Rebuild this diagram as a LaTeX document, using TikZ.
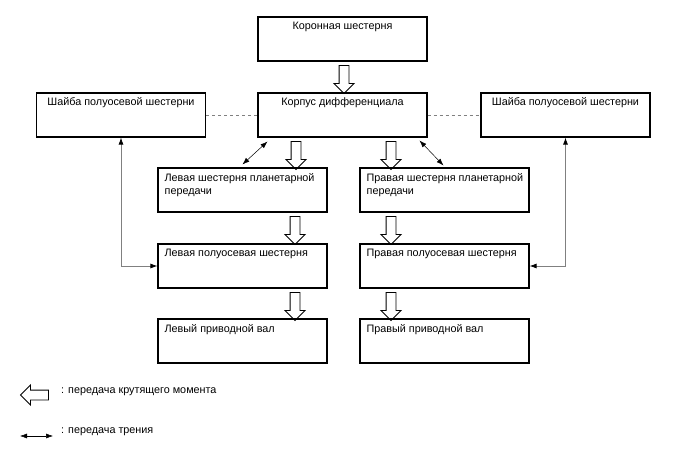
\documentclass[tikz,border=0pt]{standalone}
\usepackage{fontspec}
\setmainfont{Liberation Sans}
\usetikzlibrary{arrows.meta,shapes.arrows}
\definecolor{linkgray}{HTML}{808080}

\begin{document}
\begin{tikzpicture}[x=1pt,y=-1pt,
  font=\fontsize{10.8}{13.5}\selectfont,
  box/.style={rectangle, draw, line width=1.1pt, minimum width=169pt, minimum height=44pt, inner sep=0pt},
  midtitle/.style={label={[anchor=north, inner sep=0pt, yshift=-5pt]north:#1}},
  lefttitle/.style={label={[anchor=north west, align=left, inner sep=0pt, xshift=7pt, yshift=-5.5pt]north west:#1}},
  torque/.style={single arrow, draw, line width=0.9pt, shape border rotate=270, minimum height=28pt, single arrow head extend=5pt, single arrow tip angle=90, inner sep=4.5pt},
  friction/.style={{Latex[length=7pt,width=5pt]}-{Latex[length=7pt,width=5pt]}, line width=0.5pt},
  link/.style={{Latex[length=7pt,width=5pt,color=black]}-{Latex[length=7pt,width=5pt,color=black]}, draw=linkgray, line width=0.8pt},
  contact/.style={dashed, draw=linkgray, line width=0.8pt}
]

\useasboundingbox (0,0) rectangle (688,463);

\node at (342.5,39) [box, midtitle={Коронная шестерня}] (ring) {};
\node at (342.5,115) [box, midtitle={Корпус дифференциала}] (diff) {};
\node at (121,115) [box, midtitle={Шайба полуосевой шестерни}] (lwasher) {};
\node at (565.5,115) [box, midtitle={Шайба полуосевой шестерни}] (rwasher) {};
\node at (242.5,190) [box, lefttitle={Левая шестерня планетарной\\передачи}] (lpinion) {};
\node at (444.5,190) [box, lefttitle={Правая шестерня планетарной\\передачи}] (rpinion) {};
\node at (242.5,266) [box, lefttitle={Левая полуосевая шестерня}] (lside) {};
\node at (444.5,266) [box, lefttitle={Правая полуосевая шестерня}] (rside) {};
\node at (242.5,341) [box, lefttitle={Левый приводной вал}] (lshaft) {};
\node at (444.5,341) [box, lefttitle={Правый приводной вал}] (rshaft) {};

\node at (344,77) [torque] (t0) {};
\node at (296,153) [torque] (t1) {};
\node at (391,153) [torque] (t2) {};
\node at (295,228) [torque] (t3) {};
\node at (391,228) [torque] (t4) {};
\node at (295,304) [torque] (t5) {};
\node at (391,304) [torque] (t6) {};

\draw[contact] (lwasher.east) -- (diff.west);
\draw[contact] (diff.east) -- (rwasher.west);

\draw[friction] ([shift={(10,4)}]diff.south west) -- ([shift={(85,-3)}]lpinion.north west);
\draw[friction] ([shift={(-8,3)}]diff.south east) -- ([shift={(84,-2)}]rpinion.north west);

\draw[link] (lwasher.south) |- (lside.west);
\draw[link] (rwasher.south) |- (rside.east);

\node at (37,395) [torque, shape border rotate=180] (keytorque) {};
\node at (61,392) [anchor=west, inner sep=0pt] (keytorquetext) {: передача крутящего момента};
\coordinate (keyfa) at (20,436);
\coordinate (keyfb) at (53,436);
\draw[friction] (keyfa) -- (keyfb);
\node at (61,432) [anchor=west, inner sep=0pt] (keyfrictiontext) {: передача трения};

\end{tikzpicture}
\end{document}
